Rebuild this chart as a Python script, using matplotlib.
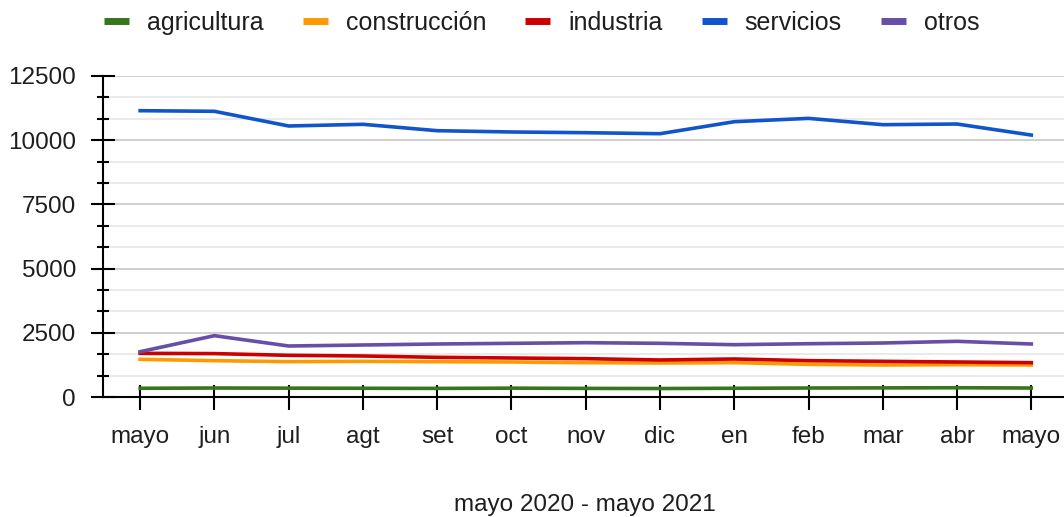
import matplotlib
matplotlib.use("Agg")
import matplotlib.pyplot as plt
from matplotlib.lines import Line2D
from matplotlib.ticker import MultipleLocator

plt.rcParams["font.family"] = ["Liberation Sans", "DejaVu Sans"]

# ── data ────────────────────────────────────────────────────────────────
MONTHS = ["mayo", "jun", "jul", "agt", "set", "oct", "nov", "dic",
          "en", "feb", "mar", "abr", "mayo"]

agricultura  = [340, 350, 345, 340, 335, 345, 335, 330, 340, 350, 355, 360, 350]
construccion = [1467, 1415, 1376, 1389, 1376, 1363, 1337, 1324, 1337, 1272, 1246, 1259, 1246]
industria    = [1700, 1690, 1623, 1597, 1545, 1519, 1493, 1441, 1480, 1415, 1389, 1363, 1337]
servicios    = [11149, 11125, 10553, 10619, 10370, 10320, 10292, 10253,
                10720, 10850, 10604, 10630, 10200]
otros        = [1764, 2388, 1986, 2025, 2064, 2090, 2115, 2090, 2037, 2075, 2103, 2168, 2064]

SERIES = [
    ("agricultura",  agricultura,  "#38761d"),
    ("construcción", construccion, "#ff9900"),
    ("industria",    industria,    "#cc0000"),
    ("servicios",    servicios,    "#1155cc"),
    ("otros",        otros,        "#674ea7"),
]

TEXT = "#1e1e1e"
FS = 17.5

fig = plt.figure(figsize=(10.64, 5.17), dpi=100)
ax = fig.add_axes([103 / 1064, 1 - 397 / 517, 1 - 103 / 1064, (397 - 76) / 517])

x = range(len(MONTHS))
for name, vals, color in SERIES:
    ax.plot(x, vals, color=color, linewidth=2.6, solid_joinstyle="round", zorder=3)

ax.set_xlim(-0.5, 12.44)
ax.set_ylim(0, 12500)

ax.yaxis.set_major_locator(MultipleLocator(2500))
ax.yaxis.set_minor_locator(MultipleLocator(2500 / 3))
ax.set_xticks(list(x))
ax.set_xticklabels(MONTHS)

ax.grid(axis="y", which="major", color="#cccccc", linewidth=1.3, zorder=0)
ax.grid(axis="y", which="minor", color="#e6e6e6", linewidth=1.2, zorder=0)
ax.grid(axis="x", visible=False)

for side in ("top", "right"):
    ax.spines[side].set_visible(False)
for side in ("left", "bottom"):
    ax.spines[side].set_linewidth(1.5)
    ax.spines[side].set_color("black")

ax.tick_params(axis="y", which="major", direction="inout", length=17, width=1.5,
               labelsize=FS, labelcolor=TEXT, pad=11)
ax.tick_params(axis="y", which="minor", direction="inout", length=9, width=1.5)
ax.tick_params(axis="x", which="major", direction="inout", length=18, width=1.5,
               labelsize=FS, labelcolor=TEXT, pad=12)

ax.set_xlabel("mayo 2020 - mayo 2021", fontsize=FS, color=TEXT, va="baseline")
ax.xaxis.set_label_coords((585 - 103) / (1064 - 103), -(511 - 397) / (397 - 76))

handles = [Line2D([], [], color=c, linewidth=5, solid_capstyle="butt") for _, _, c in SERIES]
labels = [n for n, _, _ in SERIES]
fig.legend(handles, labels, loc="upper center", bbox_to_anchor=(0.509, 1.022), ncol=5,
           frameon=False, fontsize=18, handlelength=1.0, handletextpad=0.72,
           columnspacing=1.56, labelcolor=TEXT)

fig.savefig("out.png", dpi=100, facecolor="white")
